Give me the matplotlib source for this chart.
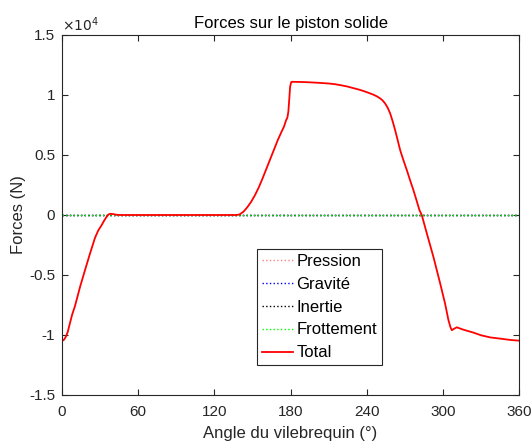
import matplotlib
matplotlib.use('Agg')
import matplotlib.pyplot as plt
from matplotlib.ticker import FuncFormatter

plt.rcParams['font.family'] = ['Liberation Sans', 'DejaVu Sans']

# angle du vilebrequin (deg) et force totale (N)
angle_total = [0, 1.5, 3, 4.5, 6.3, 8, 10.2, 14.2, 18.1, 22.1, 26, 28.5, 31.3, 33.3,
               35.2, 36.5, 37.8, 40, 43, 46,
               90, 137.7, 140, 143, 146, 149, 152, 155, 158, 161, 164, 167, 170, 173,
               175, 176.5, 177.5, 178.3, 179, 179.7, 180.5, 181,
               190, 200, 210, 215, 220, 225, 229.6, 235, 240, 245, 248, 250.6, 252.5,
               254.5, 256.5, 258.5, 260.5, 262.4, 264.4, 266.4, 269, 271.6, 274.2,
               276.8, 279.2, 281.6, 283.4, 287.3, 292.6, 297.9, 301.8, 304.4, 306,
               307.1, 308.5, 311, 316, 324.1, 330, 337.3, 345, 353.8, 360]
force_total = [-10500, -10400, -10150, -9750, -9000, -8300, -7600, -6000, -4600, -3200,
               -1900, -1300, -830, -450,
               -140, 30, 100, 80, 20, 0,
               0, 0, 50, 280, 650, 1100, 1650, 2300, 3050, 3850, 4650, 5450, 6250, 6950,
               7400, 7900, 8100, 8600, 9600, 10700, 11050, 11100,
               11080, 11030, 10960, 10900, 10810, 10700, 10570, 10420, 10240, 10040, 9890,
               9720, 9550,
               9300, 8950, 8470, 7800, 7080, 6250, 5400, 4550, 3750, 2900,
               2080, 1250, 400, 0, -1500, -3500, -5700, -7400, -8750, -9350,
               -9600, -9500, -9360, -9550, -9800, -10020, -10200, -10300, -10420, -10470]

# composantes quasi nulles a cette echelle
angle_comp = [0, 360]
force_pression = [0, 0]
force_gravite = [0, 0]
force_inertie = [0, 0]
force_frottement = [0, 0]

fig = plt.figure(figsize=(5.31, 4.41), dpi=100)
ax = fig.add_axes([62/531, 1 - 395/441, (519 - 62)/531, (395 - 35)/441])

ax.plot(angle_comp, force_pression, ':', color='#ff8080', lw=1, label='Pression')
ax.plot(angle_comp, force_gravite, ':', color='blue', lw=1, label='Gravité')
ax.plot(angle_comp, force_inertie, ':', color='black', lw=1, label='Inertie')
ax.plot(angle_comp, force_frottement, ':', color='#00ff00', lw=1, label='Frottement')
ax.plot(angle_total, force_total, '-', color='red', lw=1.3, label='Total')

ax.set_xlim(0, 360)
ax.set_ylim(-15000, 15000)
ax.set_xticks([0, 60, 120, 180, 240, 300, 360])
ax.set_yticks([-15000, -10000, -5000, 0, 5000, 10000, 15000])
ax.yaxis.set_major_formatter(FuncFormatter(lambda v, p: '%g' % (v / 1e4)))
ax.tick_params(direction='in', top=True, right=True, length=4, width=0.8,
               labelsize=11, colors='#262626')
ax.tick_params(axis='x', pad=7)
ax.tick_params(axis='y', pad=5)
for s in ax.spines.values():
    s.set_color('#262626')
    s.set_linewidth(0.8)

ax.text(0.0, 1.003, r'$\times10^{4}$', transform=ax.transAxes, fontsize=10,
        color='#262626', ha='left', va='bottom')
ax.set_title('Forces sur le piston solide', fontsize=12, color='black', pad=5)
ax.set_xlabel('Angle du vilebrequin (°)', fontsize=12, color='#262626', labelpad=5)
ax.set_ylabel('Forces (N)', fontsize=12, color='#262626', labelpad=2)

leg = ax.legend(loc='upper left', bbox_to_anchor=((257 - 62)/457, (395 - 249)/360),
                fontsize=12, fancybox=False, framealpha=1, edgecolor='#262626',
                handlelength=1.86, handletextpad=0.2, labelspacing=0.47,
                borderpad=0.3, borderaxespad=0)
leg.get_frame().set_linewidth(0.8)

fig.savefig('out.png', dpi=100)
